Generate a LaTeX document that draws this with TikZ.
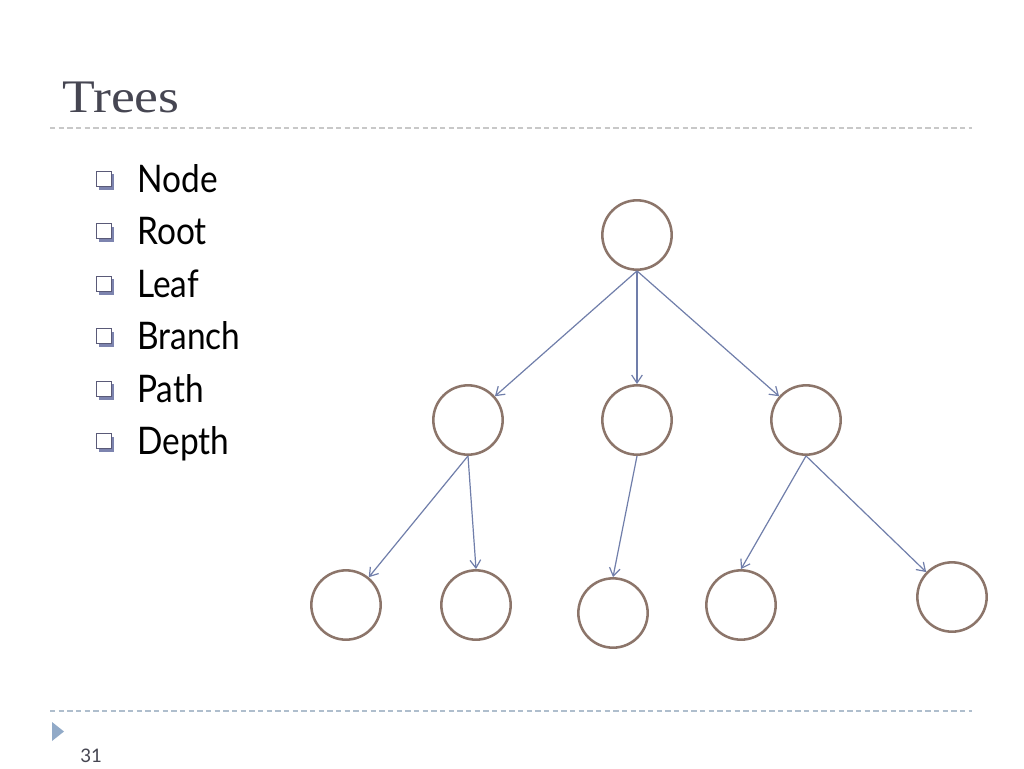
\documentclass[tikz,border=0pt]{standalone}
\usepackage{fontspec}
\setmainfont{Liberation Serif}
\newfontfamily\titlefont[FakeStretch=1.15]{Liberation Serif}
\newfontfamily\bulfont[FakeStretch=0.88]{Lato}
\newfontfamily\numfont{Lato}
\usetikzlibrary{arrows.meta}
\definecolor{circ}{RGB}{140,117,106}
\definecolor{arr}{RGB}{112,126,170}
\definecolor{ttl}{RGB}{70,70,82}
\definecolor{dashgray}{RGB}{200,200,200}
\definecolor{dashblue}{RGB}{175,190,205}
\definecolor{tri}{RGB}{145,170,200}
\definecolor{sqborder}{RGB}{90,90,120}
\definecolor{sqshadow}{RGB}{125,132,175}
\begin{document}
\begin{tikzpicture}[x=0.75pt,y=-0.75pt,
  treenode/.style={circle,draw=circ,line width=1.9pt,minimum size=52pt,inner sep=0pt},
  edge/.style={draw=arr,line width=0.9pt,-{Straight Barb[length=6pt,width=8pt]}},
  bullettext/.style={anchor=base west,inner sep=0pt,font=\bulfont\fontsize{28.5}{30}\selectfont},
  sepline/.style={line width=0.9pt,dash pattern=on 4pt off 2.5pt}
]
\useasboundingbox[fill=white] (0,0) rectangle (1024,768);
% title
\node[anchor=base west,inner sep=0pt,text=ttl,font=\titlefont\fontsize{35}{38}\selectfont] (title) at (62,112) {Trees};
\draw[sepline,draw=dashgray] (50,128) -- (972,128);
\draw[sepline,draw=dashblue] (50,711) -- (972,711);
% bottom triangle and page number
\fill[tri] (52,722) -- (64,731.5) -- (52,741) -- cycle;
\node[anchor=base west,inner sep=0pt,text=ttl,font=\numfont\fontsize{14}{15}\selectfont] (pnum) at (80,762) {31};
% bullets
\foreach \t/\y [count=\i] in {Node/192,Root/244.5,Leaf/297,Branch/349.5,Path/402,Depth/454.5}{
  \fill[sqshadow] (99,\y-18) rectangle (114,\y-2.5);
  \filldraw[fill=white,draw=sqborder,line width=0.6pt] (96,\y-21) rectangle (111,\y-6);
  \node[bullettext] (b\i) at (137,\y) {\t};
}
% tree
\node[treenode] (r) at (637,235) {};
\node[treenode] (a) at (468,420) {};
\node[treenode] (b) at (637,420) {};
\node[treenode] (c) at (806,420) {};
\node[treenode] (a1) at (346,605) {};
\node[treenode] (a2) at (476,605) {};
\node[treenode] (b1) at (613,613) {};
\node[treenode] (c1) at (741,605) {};
\node[treenode] (c2) at (952,597) {};
\draw[edge] (r.south) -- (a);
\draw[edge] (r.south) -- (b);
\draw[edge] (r.south) -- (c);
\draw[edge] (a.south) -- (a1);
\draw[edge] (a.south) -- (a2.north);
\draw[edge] (b.south) -- (b1.north);
\draw[edge] (c.south) -- (c1.north);
\draw[edge] (c.south) -- (c2);
\end{tikzpicture}
\end{document}
